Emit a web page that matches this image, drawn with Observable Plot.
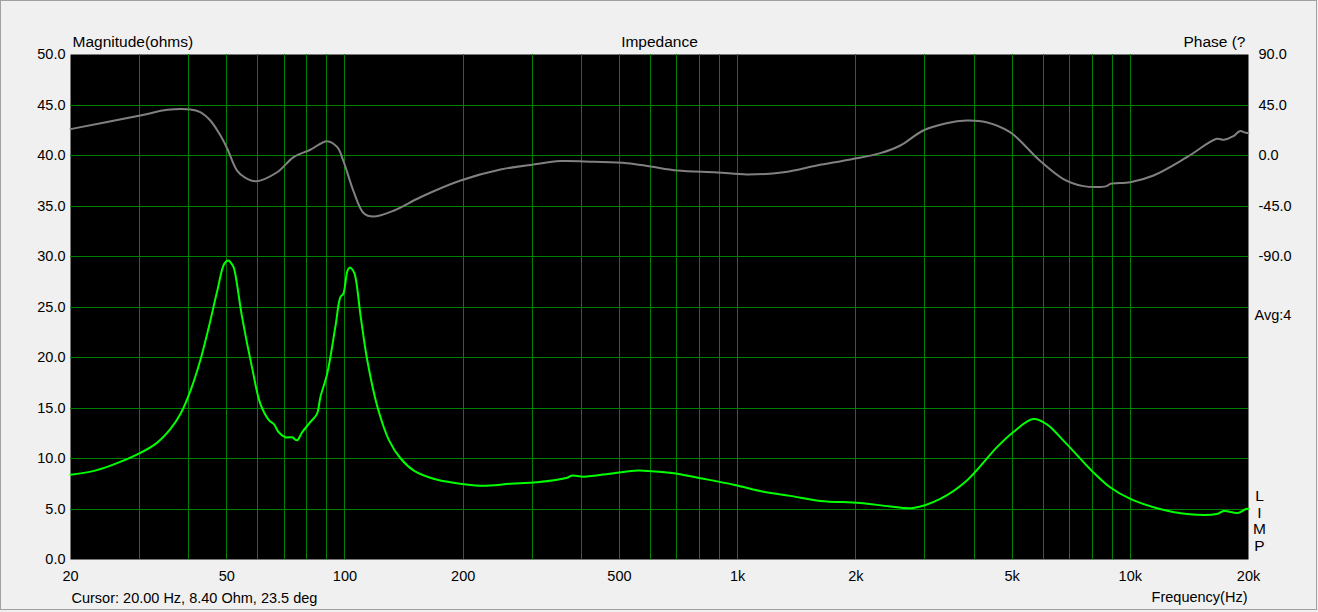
<!DOCTYPE html>
<html><head><meta charset="utf-8">
<script src="https://cdn.jsdelivr.net/npm/d3@7"></script>
<script src="https://cdn.jsdelivr.net/npm/@observablehq/plot@0.6"></script>
<style>
html,body{margin:0;padding:0;background:#f0f0f0;}
#wrap{position:relative;width:1318px;height:612px;overflow:hidden;}
#border{position:absolute;left:0;top:0;width:1315px;height:608px;border:1px solid #a0a0a0;pointer-events:none;}
</style></head><body><div id="wrap"><div id="chart"></div><div id="border"></div></div>
<script>
// Impedance magnitude (ohms) vs frequency (Hz)
const impFreq = [20,22.5,25.3,29.6,33.2,35.9,38.1,40.4,42.8,45.0,47.3,49.3,50.5,51.4,52.1,54.7,58.0,60.9,64.0,65.9,67.8,70.5,73.4,75.5,77.8,81.6,84.8,86.6,90.1,94.5,97.4,99,101.5,102.8,104,105.8,109.7,114,121,129.5,138.6,149.8,168,185.6,222,264,308,368,378,406,484,556,600,688,804,977,1184,1360,1624,2052,2446,2800,3280,3830,4570,5030,5660,6120,6880,8040,8880,10000,11900,13940,16600,17300,18800,19700,20000];
const impMag = [8.4,8.7,9.3,10.4,11.55,12.9,14.4,16.7,19.7,23.0,26.6,29.3,29.6,29.3,28.9,24.0,19.0,15.4,13.8,13.4,12.6,12.1,12.1,11.8,12.6,13.6,14.4,16.1,18.4,23.0,26.0,26.3,28.6,28.9,28.8,28.3,24.0,19.7,15.1,11.8,10.0,8.8,8.0,7.65,7.3,7.5,7.65,8.1,8.3,8.2,8.55,8.8,8.75,8.55,8.05,7.4,6.65,6.3,5.8,5.6,5.25,5.1,6.0,7.8,11.1,12.6,13.9,13.4,11.45,8.65,7.15,6.0,5.0,4.5,4.5,4.8,4.6,5.0,5.0];
// Phase (degrees) vs frequency (Hz)
const phFreq = [20,30.1,35.3,40.4,42.8,45.4,47.9,50.1,53.1,55.8,59.3,67.2,74,81.6,90.1,95.6,99,105,111.6,118,133.4,155.6,197,249,302,354,430,523,600,702,886,1056,1310,1592,1938,2310,2596,2970,3400,3830,4300,4940,5880,6740,7590,8700,8900,10000,11460,13940,16600,17300,18300,19000,19700,20000];
const phDeg = [23.5,35.6,40.7,41.0,38.6,31.2,19.3,6.5,-13.4,-19.9,-22.9,-14.9,-1.5,5.1,12.8,7.4,-4.5,-31.2,-51.4,-54.4,-49,-37.2,-22.3,-12.5,-8.0,-5.0,-5.6,-6.8,-9.8,-13.4,-15.1,-16.9,-14.9,-8.9,-3.5,2.1,8.9,22.3,28.8,31.2,29.7,20.8,-4.5,-20.8,-27.3,-27.3,-25.3,-23.8,-17.8,-1.5,14.9,14.0,17.2,21.7,20.2,20.0];
// Axis ticks
const freqTicks = [20,50,100,200,500,1000,2000,5000,10000,20000];
const freqTickLabels = ["20","50","100","200","500","1k","2k","5k","10k","20k"];
const magTicks = [0,5,10,15,20,25,30,35,40,45,50];
const phaseTicks = [90,45,0,-45,-90];

const impData = impFreq.map((f,i)=>({f, z: impMag[i]}));
const phData = phFreq.map((f,i)=>({f, p: phDeg[i]}));
const phToMag = p => 40 + p/9;
const gridFreqs = [];
for (const dec of [10,100,1000,10000]) for (let k=1;k<=9;k++){const v=dec*k; if (v>20 && v<20000) gridFreqs.push(v);}
const gridMags = magTicks.filter(v => v>0 && v<50);

const chart = Plot.plot({
  width: 1318, height: 612,
  marginTop: 54, marginBottom: 53, marginLeft: 70, marginRight: 70,
  style: {background: "transparent", fontFamily: "Arial, 'Liberation Sans', sans-serif", fontSize: "14.5px", color: "#000", overflow: "visible"},
  x: {type: "log", domain: [20, 20000], axis: null},
  y: {domain: [0, 50], axis: null},
  marks: [
    Plot.frame({fill: "black", stroke: "none"}),
    Plot.ruleX(gridFreqs, {stroke: "#008000", strokeWidth: 1, shapeRendering: "crispEdges", ariaLabel: "gridx"}),
    Plot.ruleY(gridMags, {stroke: "#008000", strokeWidth: 1, shapeRendering: "crispEdges", ariaLabel: "gridy"}),
    Plot.text(freqTicks, {x: d => d, text: (d, i) => freqTickLabels[i], frameAnchor: "bottom", lineAnchor: "middle", dy: 17}),
    Plot.text(magTicks, {y: d => d, text: d => d.toFixed(1), frameAnchor: "left", textAnchor: "end", lineAnchor: "middle", dx: -5}),
    Plot.text(phaseTicks, {y: d => phToMag(d), text: d => d.toFixed(1), frameAnchor: "right", textAnchor: "start", lineAnchor: "middle", dx: 10}),
    Plot.line(phData, {x: "f", y: d => phToMag(d.p), stroke: "#808080", strokeWidth: 2, curve: "catmull-rom"}),
    Plot.line(impData, {x: "f", y: "z", stroke: "#00ff00", strokeWidth: 2, curve: "catmull-rom"}),
    Plot.text(["Magnitude(ohms)"], {frameAnchor: "top-left", textAnchor: "start", lineAnchor: "middle", dx: 2, dy: -12, fontSize: 15.5}),
    Plot.text(["Impedance"], {frameAnchor: "top", lineAnchor: "middle", dy: -12, fontSize: 15.5}),
    Plot.text(["Phase (?"], {frameAnchor: "top-right", textAnchor: "end", lineAnchor: "middle", dx: -3, dy: -12, fontSize: 15.5}),
    Plot.text(["Avg:4"], {frameAnchor: "right", textAnchor: "start", lineAnchor: "middle", dx: 6, dy: 8}),
    Plot.text(["L\nI\nM\nP"], {frameAnchor: "bottom-right", textAnchor: "middle", lineAnchor: "middle", lineHeight: 1.07, dx: 11, dy: -39, fontSize: 15.5}),
    Plot.text(["Cursor: 20.00 Hz, 8.40 Ohm, 23.5 deg"], {frameAnchor: "bottom-left", textAnchor: "start", lineAnchor: "middle", dx: 1, dy: 39}),
    Plot.text(["Frequency(Hz)"], {frameAnchor: "bottom-right", textAnchor: "end", lineAnchor: "middle", dx: -1, dy: 38})
  ]
});
// snap 1px grid lines to whole pixels so they render as solid single-pixel lines
chart.querySelectorAll('g[aria-label="gridx"] line, g[aria-label="gridy"] line').forEach(l => {
  for (const a of ["x1","x2","y1","y2"]) {
    const v = l.getAttribute(a);
    if (v != null) l.setAttribute(a, Math.round(+v));
  }
});
document.getElementById("chart").appendChild(chart);
</script></body></html>
